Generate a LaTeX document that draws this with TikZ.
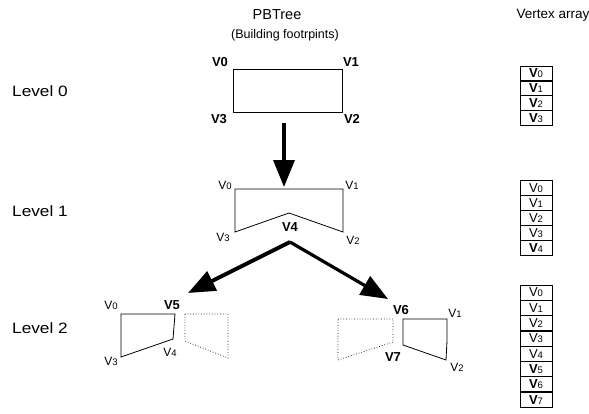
\documentclass[tikz,border=0pt]{standalone}
\usepackage{fontspec}
\setmainfont{Liberation Sans}
\usetikzlibrary{arrows.meta}
\tikzset{
  heading/.style={font=\fontsize{14.5}{16}\selectfont, inner sep=0},
  subheading/.style={font=\fontsize{12.5}{14}\selectfont, inner sep=0},
  levellabel/.style={font=\fontsize{15}{17}\selectfont, inner sep=0},
  vbold/.style={font=\bfseries\fontsize{13}{14}\selectfont, inner sep=0},
  vplain/.style={font=\fontsize{12}{13}\selectfont, inner sep=0},
  footprint/.style={draw, line width=0.8pt, line join=miter},
  ghost/.style={draw, line width=0.7pt, dotted},
  bigarrow/.style={line width=3.6pt, -{Triangle[length=27pt,width=21pt]}},
  cell/.style={draw, line width=0.8pt, minimum width=32pt, minimum height=15pt,
    inner sep=0, font=\fontsize{13}{14}\selectfont},
}
% vertex labels: capital V with a smaller index
\newcommand{\vtxB}[1]{\textbf{V}{\fontsize{9.5}{10}\selectfont #1}}
\newcommand{\vtxN}[1]{V{\fontsize{9.5}{10}\selectfont #1}}
\begin{document}
\begin{tikzpicture}[x=1pt,y=-1pt]
\useasboundingbox (0,0) rectangle (589,413);

% column headings
\node[heading] (htree) at (277,15) {PBTree};
\node[subheading] (hsub) at (285,35) {(Building footrpints)};
\node[heading] (harr) at (553,15) {\fontsize{13.5}{15}\selectfont Vertex array};

% level labels
\node[levellabel] (lev0) at (40,91) {\scalebox{1.15}[1]{Level 0}};
\node[levellabel] (lev1) at (40,211) {\scalebox{1.15}[1]{Level 1}};
\node[levellabel] (lev2) at (40,328) {\scalebox{1.15}[1]{Level 2}};

% ---- level 0 footprint
\coordinate (a0) at (233,69);
\coordinate (a1) at (342,69);
\coordinate (a2) at (342,112);
\coordinate (a3) at (233,112);
\draw[footprint] (a0) -- (a1) -- (a2) -- (a3) -- cycle;
\node[vbold] (la0) at (220,62) {V0};
\node[vbold] (la1) at (351,62) {V1};
\node[vbold] (la3) at (219,119) {V3};
\node[vbold] (la2) at (352,119) {V2};

% split arrow level 0 -> level 1
\coordinate (d0) at (284,123);
\coordinate (d1) at (284,187);
\draw[bigarrow] (d0) -- (d1);

% ---- level 1 footprint
\coordinate (b0) at (235,189);
\coordinate (b1) at (343,189);
\coordinate (b2) at (343,232);
\coordinate (b4) at (289,213);
\coordinate (b3) at (235,232);
\draw[footprint] (b0) -- (b1) -- (b2) -- (b4) -- (b3) -- cycle;
\node[vplain] (lb0) at (225,185) {\vtxN{0}};
\node[vplain] (lb1) at (352,185) {\vtxN{1}};
\node[vplain] (lb3) at (223,237) {\vtxN{3}};
\node[vplain] (lb2) at (353,240) {\vtxN{2}};
\node[vbold] (lb4) at (290,227) {V4};

% split arrows level 1 -> level 2
\coordinate (s0) at (290,242);
\coordinate (sl) at (188,293);
\coordinate (sr) at (388,299);
\draw[bigarrow, line width=4pt] (s0) -- (sl);
\draw[bigarrow, line width=3.2pt] (s0) -- (sr);

% ---- level 2, left part
\coordinate (c0) at (121,314);
\coordinate (c5) at (175,314);
\coordinate (c4) at (173,339);
\coordinate (c3) at (121,357);
\draw[footprint] (c0) -- (c5) -- (c4) -- (c3) -- cycle;
\coordinate (g0) at (185,314);
\coordinate (g1) at (228,314);
\coordinate (g2) at (228,358);
\coordinate (g3) at (185,341);
\draw[ghost] (g0) -- (g1) -- (g2) -- (g3) -- cycle;
\node[vplain] (lc0) at (111,305) {\vtxN{0}};
\node[vbold] (lc5) at (172,305) {V5};
\node[vplain] (lc3) at (111,361) {\vtxN{3}};
\node[vplain] (lc4) at (170,352) {\vtxN{4}};

% ---- level 2, right part
\coordinate (h0) at (338,319);
\coordinate (h1) at (393,319);
\coordinate (h2) at (393,342);
\coordinate (h3) at (338,360);
\draw[ghost] (h0) -- (h1) -- (h2) -- (h3) -- cycle;
\coordinate (e6) at (403,319);
\coordinate (e1) at (447,319);
\coordinate (e1b) at (447,341);
\coordinate (e2) at (446,360);
\coordinate (e7) at (403,345);
\draw[footprint] (e6) -- (e1) -- (e1b) -- (e2) -- (e7) -- cycle;
\node[vbold] (le6) at (401,310) {V6};
\node[vplain] (le1) at (455,313) {\vtxN{1}};
\node[vbold] (le7) at (393,357) {V7};
\node[vplain] (le2) at (457,367) {\vtxN{2}};

% ---- vertex arrays
\foreach \i/\t in {0/\vtxB{0},1/\vtxB{1},2/\vtxB{2},3/\vtxB{3}}
  \node[cell] (p\i) at (536,{73.5+14.7*\i}) {\t};
\foreach \i/\t in {0/\vtxN{0},1/\vtxN{1},2/\vtxN{2},3/\vtxN{3},4/\vtxB{4}}
  \node[cell] (q\i) at (536,{188+15*\i}) {\t};
\foreach \i/\t in {0/\vtxN{0},1/\vtxN{1},2/\vtxN{2},3/\vtxN{3},4/\vtxN{4},5/\vtxB{5},6/\vtxB{6},7/\vtxB{7}}
  \node[cell] (r\i) at (536,{292.5+15.3*\i}) {\t};
\end{tikzpicture}
\end{document}
